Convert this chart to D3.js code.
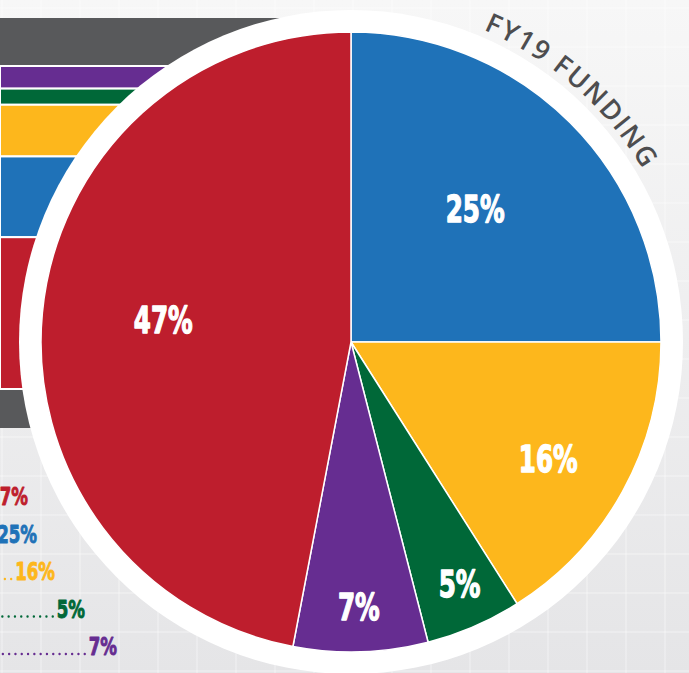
<!DOCTYPE html>
<html>
<head>
<meta charset="utf-8">
<script src="https://cdn.jsdelivr.net/npm/d3@7"></script>
<style>
  html, body { margin: 0; padding: 0; background: #f2f2f3; }
  svg { display: block; }
</style>
</head>
<body>
<script>
// FY19 funding split (clockwise from 12 o'clock)
const sliceNames = ['blue', 'yellow', 'green', 'purple', 'red'];
const sliceValues = [25, 16, 5, 7, 47];
const sliceColors = ['#1f72b8', '#fdb71c', '#006838', '#662d91', '#be1e2d'];

// stacked bars on the left, top to bottom
const barOrder = ['purple', 'green', 'yellow', 'blue', 'red'];

// the list under the bars, top to bottom
const legendOrder = ['red', 'blue', 'yellow', 'green', 'purple'];

const title = 'FY19 FUNDING';

const width = 689, height = 673;
const cx = 351, cy = 342;
const pieR = 310, ringR = 332;
const condensed = '"DejaVu Sans Condensed", "DejaVu Sans", sans-serif';
const squeeze = 0.74; // the original face is a heavy condensed one

const valueOf = {}, colorOf = {};
sliceNames.forEach((n, i) => { valueOf[n] = sliceValues[i]; colorOf[n] = sliceColors[i]; });

const svg = d3.select('body').append('svg')
  .attr('width', width)
  .attr('height', height);

// background
const defs = svg.append('defs');
const bg = defs.append('linearGradient')
  .attr('id', 'bg').attr('x1', 0).attr('y1', 0).attr('x2', 0).attr('y2', 1);
bg.append('stop').attr('offset', '0%').attr('stop-color', '#f7f7f7');
bg.append('stop').attr('offset', '100%').attr('stop-color', '#e5e5e7');
svg.append('rect').attr('width', width).attr('height', height).attr('fill', 'url(#bg)');

const grid = svg.append('g').attr('stroke', '#ffffff').attr('stroke-opacity', 0.5).attr('stroke-width', 1);
grid.selectAll('line.v').data(d3.range(2, width, 39)).enter().append('line')
  .attr('x1', d => d).attr('x2', d => d).attr('y1', 0).attr('y2', height);
grid.selectAll('line.h').data(d3.range(8, height, 39)).enter().append('line')
  .attr('x1', 0).attr('x2', width).attr('y1', d => d).attr('y2', d => d);

// stacked bars feeding into the pie
const gray = '#58595b';
svg.append('rect').attr('x', 0).attr('y', 18).attr('width', cx).attr('height', 47).attr('fill', gray);
svg.append('rect').attr('x', 0).attr('y', 390).attr('width', cx).attr('height', 38).attr('fill', gray);

const stackY = d3.scaleLinear().domain([0, d3.sum(sliceValues)]).range([66, 389]);
let acc = 0;
const barData = barOrder.map(n => {
  const d = { name: n, y0: acc, y1: acc + valueOf[n] };
  acc += valueOf[n];
  return d;
});
svg.append('g').selectAll('rect').data(barData).enter().append('rect')
  .attr('x', 0)
  .attr('y', d => stackY(d.y0))
  .attr('width', cx)
  .attr('height', d => stackY(d.y1) - stackY(d.y0))
  .attr('fill', d => colorOf[d.name])
  .attr('stroke', '#ffffff')
  .attr('stroke-width', 2);

// white ring + pie
svg.append('circle').attr('cx', cx).attr('cy', cy).attr('r', ringR).attr('fill', '#ffffff');

const pie = d3.pie().sort(null).value(d => d.value);
const arcs = pie(sliceNames.map((n, i) => ({ name: n, value: sliceValues[i] })));
const arc = d3.arc().innerRadius(0).outerRadius(pieR);

const g = svg.append('g').attr('transform', `translate(${cx},${cy})`);
g.selectAll('path').data(arcs).enter().append('path')
  .attr('d', arc)
  .attr('fill', d => colorOf[d.data.name])
  .attr('stroke', '#ffffff')
  .attr('stroke-width', 1.5);

// slice labels (polar offsets, degrees clockwise from top)
const labelPolar = { blue: [43, 182], yellow: [120.5, 229], green: [155.8, 265], purple: [178.3, 265], red: [276.7, 189] };
const rad = Math.PI / 180;
g.selectAll('text.pct').data(arcs).enter().append('text')
  .attr('class', 'pct')
  .attr('transform', d => {
    const [a, r] = labelPolar[d.data.name];
    return `translate(${Math.sin(a * rad) * r},${-Math.cos(a * rad) * r}) scale(${squeeze},1)`;
  })
  .attr('dy', '0.36em')
  .attr('text-anchor', 'middle')
  .attr('font-family', condensed)
  .attr('font-weight', 'bold')
  .attr('font-size', 37)
  .attr('fill', '#ffffff')
  .attr('stroke', '#ffffff')
  .attr('stroke-width', 1.3)
  .attr('stroke-linejoin', 'round')
  .text(d => d.data.value + '%');

// curved title
const tr = 339, a0 = 23 * rad, a1 = 78 * rad;
defs.append('path')
  .attr('id', 'titlePath')
  .attr('d', `M${cx + tr * Math.sin(a0)},${cy - tr * Math.cos(a0)} A${tr},${tr} 0 0 1 ${cx + tr * Math.sin(a1)},${cy - tr * Math.cos(a1)}`);
svg.append('text')
  .attr('font-family', '"Open Sans", "Noto Sans", sans-serif')
  .attr('font-weight', 600)
  .attr('font-size', 27)
  .attr('letter-spacing', 2)
  .attr('fill', '#4d4d4f')
  .append('textPath')
  .attr('href', '#titlePath')
  .text(title);

// list with dotted leaders
const legendY = d3.scalePoint().domain(legendOrder).range([505, 655]);
const legendEnd = { red: 28, blue: 37, yellow: 55, green: 85, purple: 117 };
const rows = svg.append('g').selectAll('g').data(legendOrder).enter().append('g');
rows.append('text')
  .attr('transform', d => `translate(${legendEnd[d]},${legendY(d)}) scale(${squeeze},1)`)
  .attr('text-anchor', 'end')
  .attr('font-family', condensed)
  .attr('font-weight', 'bold')
  .attr('font-size', 25)
  .attr('fill', d => colorOf[d])
  .attr('stroke', d => colorOf[d])
  .attr('stroke-width', 0.9)
  .attr('stroke-linejoin', 'round')
  .text(d => valueOf[d] + '%');
rows.each(function (d) {
  const t = d3.select(this).select('text').node();
  const start = legendEnd[d] - t.getComputedTextLength() * squeeze - 4;
  if (start > 3) {
    d3.select(this).insert('line', 'text')
      .attr('x1', start).attr('x2', 0)
      .attr('y1', legendY(d) - 1).attr('y2', legendY(d) - 1)
      .attr('stroke', colorOf[d])
      .attr('stroke-width', 2.4)
      .attr('stroke-linecap', 'round')
      .attr('stroke-dasharray', '0,6.3');
  }
});
</script>
</body>
</html>
